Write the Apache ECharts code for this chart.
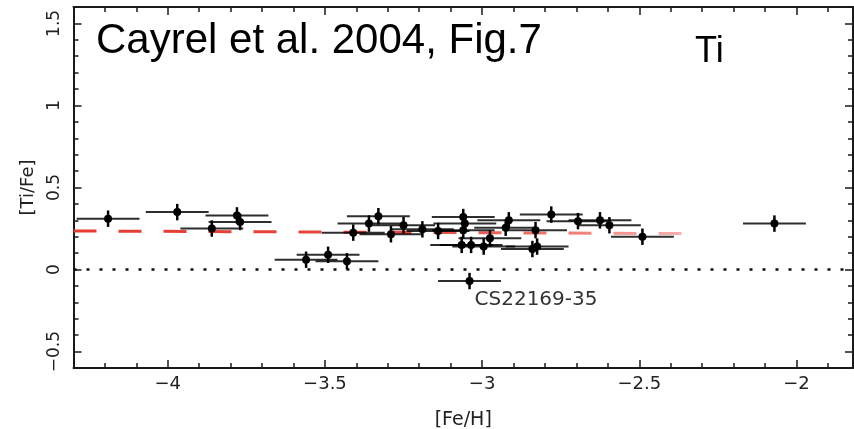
<!DOCTYPE html>
<html>
<head>
<meta charset="utf-8">
<script src="https://cdn.jsdelivr.net/npm/echarts@6/dist/echarts.min.js"></script>
<style>
html,body{margin:0;padding:0;background:#fff;}
#chart{width:854px;height:429px;}
</style>
</head>
<body>
<div id="chart"></div>
<script>
// [Fe/H] values of the stars
var feh = [-4.19, -3.97, -3.78, -3.77, -3.86, -3.56, -3.49, -3.43, -3.41, -3.36,
           -3.33, -3.29, -3.25, -3.19, -3.14, -3.06, -3.055, -3.06, -3.065, -3.035,
           -2.995, -2.975, -2.925, -2.915, -2.83, -2.84, -2.825, -2.78, -2.695, -2.625,
           -2.595, -2.49, -2.07, -3.04];
// [Ti/Fe] values of the stars
var tife = [0.31, 0.35, 0.33, 0.29, 0.25, 0.06, 0.09, 0.05, 0.225, 0.28,
            0.325, 0.215, 0.27, 0.245, 0.235, 0.32, 0.28, 0.24, 0.15, 0.15,
            0.14, 0.19, 0.255, 0.30, 0.24, 0.125, 0.14, 0.335, 0.295, 0.30,
            0.27, 0.20, 0.28, -0.07];
var fehErr = 0.1;   // horizontal error bar half-width
var tifeErr = 0.05; // vertical error bar half-width

// mean trend (red dashed)
var trendX = [-4.3, -2.35];
var trendY = [0.235, 0.219];

// annotated star
var noteNames = ['CS22169-35'];
var noteX = [-3.04];
var noteY = [-0.07];

var xTicks = [-4, -3.5, -3, -2.5, -2];
var yTicks = [-0.5, 0, 0.5, 1, 1.5];
var xMinor = [-4.2,-4.1,-3.9,-3.8,-3.7,-3.6,-3.4,-3.3,-3.2,-3.1,-2.9,-2.8,-2.7,-2.6,-2.4,-2.3,-2.2,-2.1,-1.9];
var yMinor = [-0.6,-0.4,-0.3,-0.2,-0.1,0.1,0.2,0.3,0.4,0.6,0.7,0.8,0.9,1.1,1.2,1.3,1.4,1.6];

var X_MIN = -4.3, X_MAX = -1.82, Y_MIN = -0.6, Y_MAX = 1.6;

var points = feh.map(function (v, i) { return [v, tife[i]]; });
var notes = noteNames.map(function (n, i) { return [noteX[i], noteY[i], n]; });

function fmt(v) { return String(v).replace('-', '\u2212'); }

var axisCol = '#1a1a1a';
function xAxisDef(pos, major, withLabel) {
  return {
    type: 'value', position: pos, min: X_MIN, max: X_MAX,
    axisLine: { show: major, onZero: false, lineStyle: { color: axisCol, width: 2 } },
    axisTick: { show: true, inside: true, length: major ? 8 : 5, customValues: major ? xTicks : xMinor,
                lineStyle: { color: axisCol, width: 1.5 } },
    axisLabel: withLabel ? { show: true, customValues: xTicks, formatter: fmt, margin: 7,
                fontFamily: 'DejaVu Sans', fontSize: 18, color: '#222' } : { show: false },
    splitLine: { show: false },
    name: withLabel ? '[Fe/H]' : '', nameLocation: 'middle', nameGap: 43,
    nameTextStyle: { fontFamily: 'DejaVu Sans', fontSize: 19, color: '#222' }
  };
}
function yAxisDef(pos, major, withLabel) {
  return {
    type: 'value', position: pos, min: Y_MIN, max: Y_MAX,
    axisLine: { show: major, onZero: false, lineStyle: { color: axisCol, width: 2 } },
    axisTick: { show: true, inside: true, length: major ? 8 : 5, customValues: major ? yTicks : yMinor,
                lineStyle: { color: axisCol, width: 1.5 } },
    axisLabel: withLabel ? { show: true, customValues: yTicks, formatter: fmt, rotate: 90, margin: 10,
                fontFamily: 'DejaVu Sans', fontSize: 17, color: '#222' } : { show: false },
    splitLine: { show: false },
    name: withLabel ? '[Ti/Fe]' : '', nameLocation: 'middle', nameGap: 36,
    nameTextStyle: { fontFamily: 'DejaVu Sans', fontSize: 18, color: '#222' }
  };
}

var chart = echarts.init(document.getElementById('chart'), null, { renderer: 'canvas' });
chart.setOption({
  animation: false,
  backgroundColor: '#fff',
  grid: { left: 73.5, right: 1, top: 7, bottom: 61, containLabel: false, outerBoundsMode: 'none' },
  xAxis: [xAxisDef('bottom', true, true), xAxisDef('bottom', false, false),
          xAxisDef('top', true, false), xAxisDef('top', false, false)],
  yAxis: [yAxisDef('left', true, true), yAxisDef('left', false, false),
          yAxisDef('right', true, false), yAxisDef('right', false, false)],
  graphic: [
    { type: 'text', left: 96, top: 20, z: 10,
      style: { text: 'Cayrel et al. 2004, Fig.7', font: '42px "Liberation Sans", Arial, sans-serif', fill: '#000' } },
    { type: 'text', left: 695, top: 34, z: 10,
      style: { text: 'Ti', font: '36px "Liberation Sans", Arial, sans-serif', fill: '#000' } }
  ],
  series: [
    {
      type: 'line', data: [[X_MIN, 0], [X_MAX, 0]], symbol: 'none', silent: true,
      lineStyle: { color: '#111', width: 2.5, type: [3, 10] }, z: 1
    },
    {
      type: 'line', data: trendX.map(function (v, i) { return [v, trendY[i]]; }), symbol: 'none', silent: true,
      lineStyle: { width: 3, type: [23, 22],
        color: new echarts.graphic.LinearGradient(0, 0, 1, 0, [
          { offset: 0, color: '#e53a30' }, { offset: 0.55, color: '#e8483f' },
          { offset: 0.8, color: '#ef7a72' }, { offset: 1, color: '#f8b4b4' }]) },
      z: 2
    },
    {
      type: 'custom', data: points, clip: true, z: 3,
      renderItem: function (params, api) {
        var x = api.value(0), y = api.value(1);
        var c = api.coord([x, y]);
        var l = api.coord([x - fehErr, y]);
        var r = api.coord([x + fehErr, y]);
        var t = api.coord([x, y + tifeErr]);
        var b = api.coord([x, y - tifeErr]);
        return { type: 'group', children: [
          { type: 'line', shape: { x1: l[0], y1: l[1], x2: r[0], y2: r[1] },
            style: { stroke: 'rgba(0,0,0,0.82)', lineWidth: 2 } },
          { type: 'line', shape: { x1: c[0], y1: t[1], x2: c[0], y2: b[1] },
            style: { stroke: '#000', lineWidth: 2.5 } },
          { type: 'circle', shape: { cx: c[0], cy: c[1], r: 4 }, style: { fill: '#000' } }
        ] };
      }
    },
    {
      type: 'custom', data: notes, z: 4,
      renderItem: function (params, api) {
        var c = api.coord([api.value(0), api.value(1)]);
        return { type: 'text', x: c[0] + 5, y: c[1] + 19,
          style: { text: noteNames[params.dataIndex], font: '20px "DejaVu Sans"', fill: '#333',
                   textVerticalAlign: 'middle', textAlign: 'left' } };
      }
    }
  ]
});
</script>
</body>
</html>
